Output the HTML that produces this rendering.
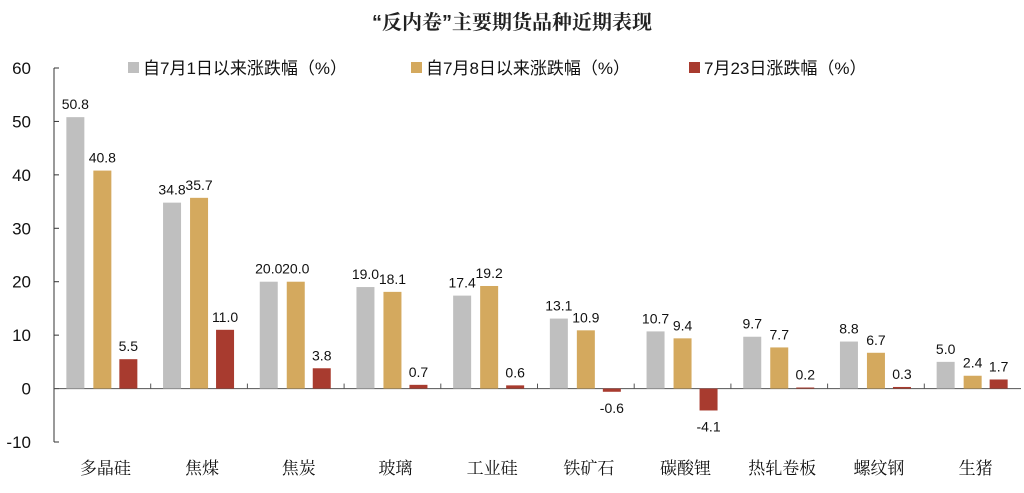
<!DOCTYPE html>
<html><head><meta charset="utf-8"><style>
body{margin:0;background:#fff;width:1024px;height:488px;overflow:hidden}
text{font-family:"Liberation Sans","Noto Sans CJK SC",sans-serif}
</style></head><body>
<svg id="chart" width="1024" height="488" xmlns="http://www.w3.org/2000/svg">
<text x="512" y="29" text-anchor="middle" font-size="20" font-weight="bold" fill="#222" style="font-family:'Liberation Sans','Noto Serif CJK SC',serif">“反内卷”主要期货品种近期表现</text>
<g id="legend"></g>
<g id="axes"></g>
<g id="bars"></g>
</svg>
<script>
const categories=["多晶硅","焦煤","焦炭","玻璃","工业硅","铁矿石","碳酸锂","热轧卷板","螺纹钢","生猪"];
const sinceJul1=[50.8,34.8,20.0,19.0,17.4,13.1,10.7,9.7,8.8,5.0];
const sinceJul8=[40.8,35.7,20.0,18.1,19.2,10.9,9.4,7.7,6.7,2.4];
const jul23=[5.5,11.0,3.8,0.7,0.6,-0.6,-4.1,0.2,0.3,1.7];
const yTicks=[-10,0,10,20,30,40,50,60];
const seriesNames=["自7月1日以来涨跌幅（%）","自7月8日以来涨跌幅（%）","7月23日涨跌幅（%）"];
const colors=["#BFBFBF","#D4A95E","#A83B2F"];
const NS="http://www.w3.org/2000/svg";
const x0=54,x1=1021,yMin=-10,yMax=60,yTop=68,yBot=442;
const y=v=>yBot-(v-yMin)/(yMax-yMin)*(yBot-yTop);
const step=(x1-x0)/categories.length;
function mk(tag,attrs,parent,txt){const e=document.createElementNS(NS,tag);for(const k in attrs)e.setAttribute(k,attrs[k]);if(txt!==undefined)e.textContent=txt;parent.appendChild(e);return e;}
const axes=document.getElementById('axes'),bars=document.getElementById('bars'),legend=document.getElementById('legend');
const ya=mk('line',{x1:x0,y1:yTop,x2:x0,y2:yBot,stroke:'#333','stroke-width':1},axes);


yTicks.forEach(t=>{
 mk('line',{x1:x0,y1:y(t),x2:x0+5,y2:y(t),stroke:'#333'},axes);
 const l=mk('text',{x:31,y:y(t)+6,'text-anchor':'end','font-size':17,fill:'#111'},axes,t);
 
 
});
const xa=mk('line',{x1:x0,y1:y(0),x2:x1,y2:y(0),stroke:'#555','stroke-width':1},axes);


const series=[sinceJul1,sinceJul8,jul23];
const offs=[-27,0,26],bw=18;
categories.forEach((c,i)=>{
 const cx=x0+step*(i+0.5);
 if(i>0)mk('line',{x1:x0+step*i,y1:y(0),x2:x0+step*i,y2:y(0)-5,stroke:'#555'},axes);
 const lab=mk('text',{x:cx+3,y:474,'text-anchor':'middle','font-size':17,fill:'#111','style':"font-family:'Liberation Serif','Noto Serif CJK SC',serif"},axes,c);
 
 
 series.forEach((s,j)=>{
  const v=s[i],bx=cx+offs[j]-bw/2;
  const top=Math.min(y(v),y(0)),h=Math.abs(y(v)-y(0));
  const r=mk('rect',{x:bx,y:top,width:bw,height:Math.max(h,0.8),fill:colors[j]},bars);
  
  
  const ty=v>=0?y(v)-8:y(v)+21;
  const t=mk('text',{x:cx+offs[j],y:ty,'text-anchor':'middle','font-size':14,fill:'#111'},bars,v.toFixed(1));
  
  
 });
});
const lx=[128,411,689];
seriesNames.forEach((n,j)=>{
 const sq=mk('rect',{x:lx[j],y:62,width:11,height:11,fill:colors[j]},legend);
 
 
 const t=mk('text',{x:lx[j]+15,y:74,'font-size':17,fill:'#111'},legend,n);
 
 
});
</script>
</body></html>
